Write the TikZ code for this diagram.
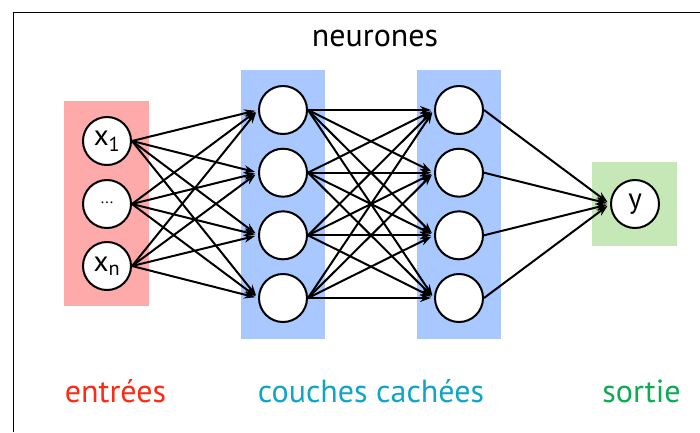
\documentclass[tikz,border=0pt]{standalone}
\usepackage{fontspec}
\setmainfont{PT Sans}
\usetikzlibrary{arrows.meta}
\definecolor{redbox}{RGB}{255,170,170}
\definecolor{bluebox}{RGB}{168,200,255}
\definecolor{greenbox}{RGB}{198,232,183}
\definecolor{redtxt}{RGB}{255,40,20}
\definecolor{bluetxt}{RGB}{15,165,200}
\definecolor{greentxt}{RGB}{10,172,80}
\tikzset{
  neuron/.style={circle,draw=black,line width=2pt,fill=white,minimum size=48pt,inner sep=0pt,font=\fontsize{29}{31}\selectfont},
  conn/.style={line width=2pt,-{Stealth[length=11pt,width=8pt]},shorten >=3pt},
  lbl/.style={font=\fontsize{32}{34}\selectfont,anchor=base,inner sep=0pt},
}
\begin{document}
\begin{tikzpicture}[x=1pt,y=-1pt]
\useasboundingbox (0,0) rectangle (700,432);
\fill[white] (0,0) rectangle (700,432);
% frame
\draw[line width=1pt] (13,432) -- (13,12) -- (700,12);
% bands
\fill[redbox] (64,101) rectangle (149,306);
\fill[bluebox] (241,70) rectangle (325,339);
\fill[bluebox] (417,70) rectangle (501,339);
\fill[greenbox] (592,162) rectangle (677,246);
% input neurons
\node[neuron] (i1) at (107,141) {x\textsubscript{1}};
\node[neuron] (i2) at (107,204) {\raisebox{0.25ex}{\fontsize{16}{16}\selectfont...}};
\node[neuron] (i3) at (107,266) {x\textsubscript{n}};
% hidden layer 1
\node[neuron] (a1) at (283,110) {};
\node[neuron] (a2) at (283,172.7) {};
\node[neuron] (a3) at (283,235.3) {};
\node[neuron] (a4) at (283,298) {};
% hidden layer 2
\node[neuron] (b1) at (459,110) {};
\node[neuron] (b2) at (459,172.7) {};
\node[neuron] (b3) at (459,235.3) {};
\node[neuron] (b4) at (459,298) {};
% output
\node[neuron] (o) at (635,204) {y};
% connections
\foreach \s in {i1,i2,i3}{
  \foreach \t in {a1,a2,a3,a4}{
    \draw[conn] (\s.east) -- (\t.west);
  }
}
\foreach \s in {a1,a2,a3,a4}{
  \foreach \t in {b1,b2,b3,b4}{
    \draw[conn] (\s.east) -- (\t.west);
  }
}
\foreach \s in {b1,b2,b3,b4}{
  \draw[conn] (\s.east) -- (o.west);
}
% labels
\node[lbl] (tn) at (375,46) {neurones};
\node[lbl,text=redtxt] (te) at (115.5,402) {entrées};
\node[lbl,text=bluetxt] (tc) at (371,402) {couches cachées};
\node[lbl,text=greentxt] (ts) at (641.5,402) {sortie};
\end{tikzpicture}
\end{document}
